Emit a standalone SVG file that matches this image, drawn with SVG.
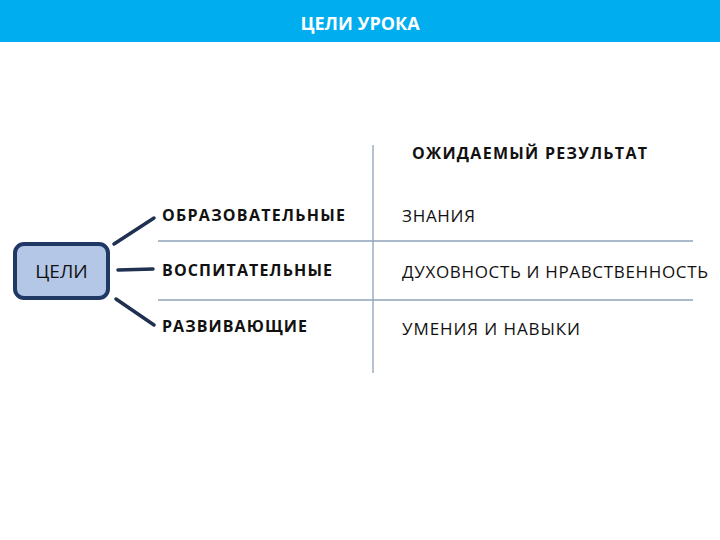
<svg xmlns="http://www.w3.org/2000/svg" width="720" height="540" viewBox="0 0 720 540">
<style>
.b{font-family:"Open Sans","Liberation Sans",sans-serif;font-weight:bold;font-size:16px;fill:#111}
.n{font-family:"Open Sans","Liberation Sans",sans-serif;font-size:17px;fill:#111}
.g{stroke:#8EA3B8;stroke-width:1.3}
.c{stroke:#1F3050;stroke-width:3.5;stroke-linecap:round}
</style>
<rect width="720" height="540" fill="#fff"/>
<g id="header"><rect x="0" y="0" width="720" height="42" fill="#00AEEF"/>
<text x="360" y="30" text-anchor="middle" class="b" style="fill:#fff;font-size:18px">ЦЕЛИ УРОКА</text></g>
<g id="grid"><line class="g" x1="373" y1="145" x2="373" y2="373"/><line class="g" x1="158" y1="241" x2="693" y2="241"/><line class="g" x1="158" y1="300" x2="693" y2="300"/></g>
<g id="connectors"><line class="c" x1="114" y1="244" x2="154" y2="218"/><line class="c" x1="118" y1="270" x2="153" y2="269"/><line class="c" x1="116" y1="299" x2="154" y2="325"/></g>
<g id="goals"><rect x="15" y="244" width="93" height="54" rx="9" fill="#B4C7E7" stroke="#1F3864" stroke-width="4"/>
<text x="61.5" y="278" text-anchor="middle" class="b" style="font-size:19px;font-weight:normal">ЦЕЛИ</text></g>
<g id="obr"><text x="162" y="221" class="b" textLength="183">ОБРАЗОВАТЕЛЬНЫЕ</text></g>
<g id="vos"><text x="162" y="276" class="b" textLength="170">ВОСПИТАТЕЛЬНЫЕ</text></g>
<g id="raz"><text x="162" y="332" class="b" textLength="145">РАЗВИВАЮЩИЕ</text></g>
<g id="res"><text x="412" y="159" class="b" textLength="235">ОЖИДАЕМЫЙ РЕЗУЛЬТАТ</text></g>
<g id="zn"><text x="402" y="222" class="n" textLength="73">ЗНАНИЯ</text></g>
<g id="dux"><text x="402" y="278" class="n" textLength="306">ДУХОВНОСТЬ И НРАВСТВЕННОСТЬ</text></g>
<g id="um"><text x="402" y="335" class="n" textLength="178">УМЕНИЯ И НАВЫКИ</text></g>
</svg>
